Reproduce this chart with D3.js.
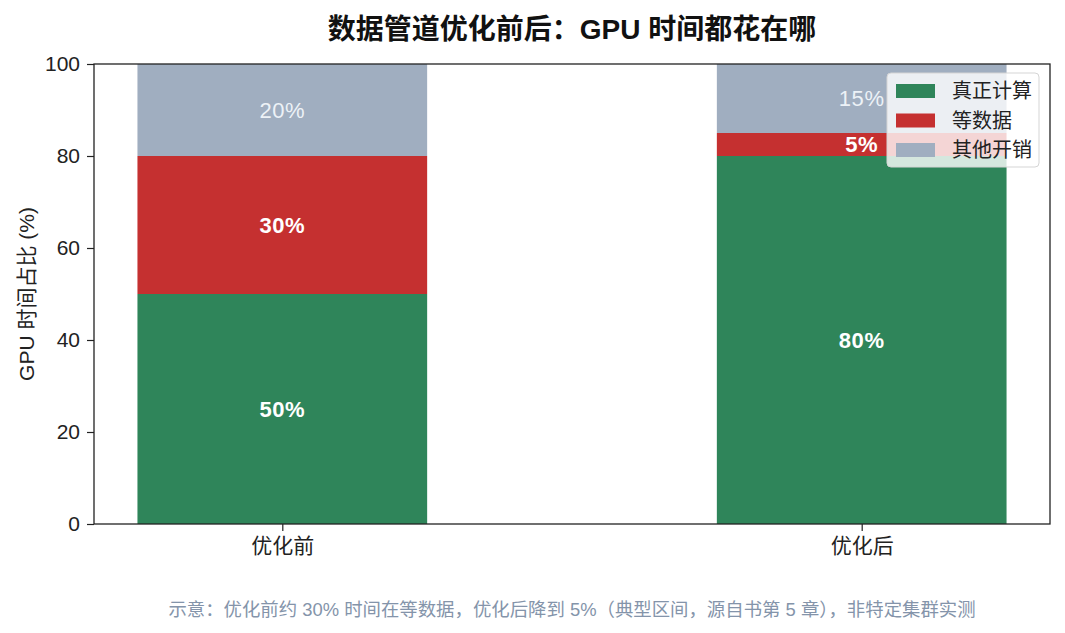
<!DOCTYPE html>
<html>
<head>
<meta charset="utf-8">
<script src="https://cdn.jsdelivr.net/npm/d3@7"></script>
<style>
  body { margin: 0; background: #fff; }
  svg text { font-family: "Liberation Sans", "Noto Sans CJK SC", sans-serif; }
</style>
</head>
<body>
<div id="chart"></div>
<script>
// data
const stages = ["优化前", "优化后"];
const seriesNames = ["真正计算", "等数据", "其他开销"];
const compute = [50, 80];
const waiting = [30, 5];
const overhead = [20, 15];
const yTicks = [0, 20, 40, 60, 80, 100];
const colors = ["#2f855a", "#c53030", "#a0aec0"];

const width = 1065, height = 633;
const margin = { top: 64, right: 15, bottom: 109, left: 94 };
const plotW = width - margin.left - margin.right;
const plotH = height - margin.top - margin.bottom;

const svg = d3.select("#chart").append("svg")
    .attr("width", width)
    .attr("height", height);

const g = svg.append("g")
    .attr("transform", `translate(${margin.left},${margin.top})`);

// index based x, bar width 0.5 like matplotlib
const x = d3.scaleLinear().domain([-0.325, 1.325]).range([0, plotW]);
const barW = x(0.5) - x(0);
const y = d3.scaleLinear().domain([0, 100]).range([plotH, 0]);

const rows = stages.map((s, i) => ({
    stage: s, i: i,
    "真正计算": compute[i], "等数据": waiting[i], "其他开销": overhead[i]
}));
const stacked = d3.stack().keys(seriesNames)(rows);

const layer = g.selectAll("g.layer")
    .data(stacked)
    .enter().append("g")
    .attr("class", "layer")
    .attr("fill", (d, k) => colors[k]);

layer.selectAll("rect")
    .data(d => d)
    .enter().append("rect")
    .attr("x", d => x(d.data.i) - barW / 2)
    .attr("width", barW)
    .attr("y", d => y(d[1]))
    .attr("height", d => y(d[0]) - y(d[1]));

// value labels
stacked.forEach((s, k) => {
    s.forEach(d => {
        g.append("text")
            .attr("x", x(d.data.i))
            .attr("y", y((d[0] + d[1]) / 2))
            .attr("dy", "0.36em")
            .attr("text-anchor", "middle")
            .attr("font-size", 22)
            .attr("letter-spacing", 0.6)
            .attr("font-weight", k === 2 ? 400 : 700)
            .attr("fill", k === 2 ? "#edf2f7" : "#fff")
            .text((d[1] - d[0]) + "%");
    });
});

// axes
const yAxis = g.append("g")
    .call(d3.axisLeft(y).tickValues(yTicks).tickSize(7).tickPadding(7));
const xAxis = g.append("g")
    .attr("transform", `translate(0,${plotH})`)
    .call(d3.axisBottom(x).tickValues([0, 1]).tickFormat(i => stages[i]).tickSize(7).tickPadding(7));

[yAxis, xAxis].forEach(a => {
    a.select(".domain").remove();
    a.selectAll("text").attr("font-size", 21).attr("fill", "#222");
    a.selectAll("line").attr("stroke", "#222").attr("stroke-width", 1.2);
});

// frame
g.append("rect")
    .attr("width", plotW)
    .attr("height", plotH)
    .attr("fill", "none")
    .attr("stroke", "#222")
    .attr("stroke-width", 1.3);

// title
svg.append("text")
    .attr("x", margin.left + plotW / 2)
    .attr("y", 39)
    .attr("text-anchor", "middle")
    .attr("font-size", 28)
    .attr("font-weight", 700)
    .attr("fill", "#111")
    .text("数据管道优化前后：GPU 时间都花在哪");

// y label
svg.append("text")
    .attr("transform", `translate(34,${margin.top + plotH / 2}) rotate(-90)`)
    .attr("text-anchor", "middle")
    .attr("font-size", 21)
    .attr("fill", "#222")
    .text("GPU 时间占比 (%)");

// footnote
svg.append("text")
    .attr("x", margin.left + plotW / 2)
    .attr("y", 616)
    .attr("text-anchor", "middle")
    .attr("font-size", 18.4)
    .attr("fill", "#8494aa")
    .text("示意：优化前约 30% 时间在等数据，优化后降到 5%（典型区间，源自书第 5 章），非特定集群实测");

// legend
const legend = svg.append("g")
    .attr("transform", `translate(887,73)`);
legend.append("rect")
    .attr("width", 152)
    .attr("height", 94)
    .attr("rx", 4)
    .attr("fill", "#fff")
    .attr("fill-opacity", 0.8)
    .attr("stroke", "#d5d5d5");

seriesNames.forEach((name, k) => {
    const item = legend.append("g")
        .attr("transform", `translate(9,${11 + k * 29.5})`);
    item.append("rect")
        .attr("width", 39)
        .attr("height", 14)
        .attr("fill", colors[k]);
    item.append("text")
        .attr("x", 56)
        .attr("y", 7)
        .attr("dy", "0.36em")
        .attr("font-size", 20)
        .attr("fill", "#222")
        .text(name);
});
</script>
</body>
</html>
